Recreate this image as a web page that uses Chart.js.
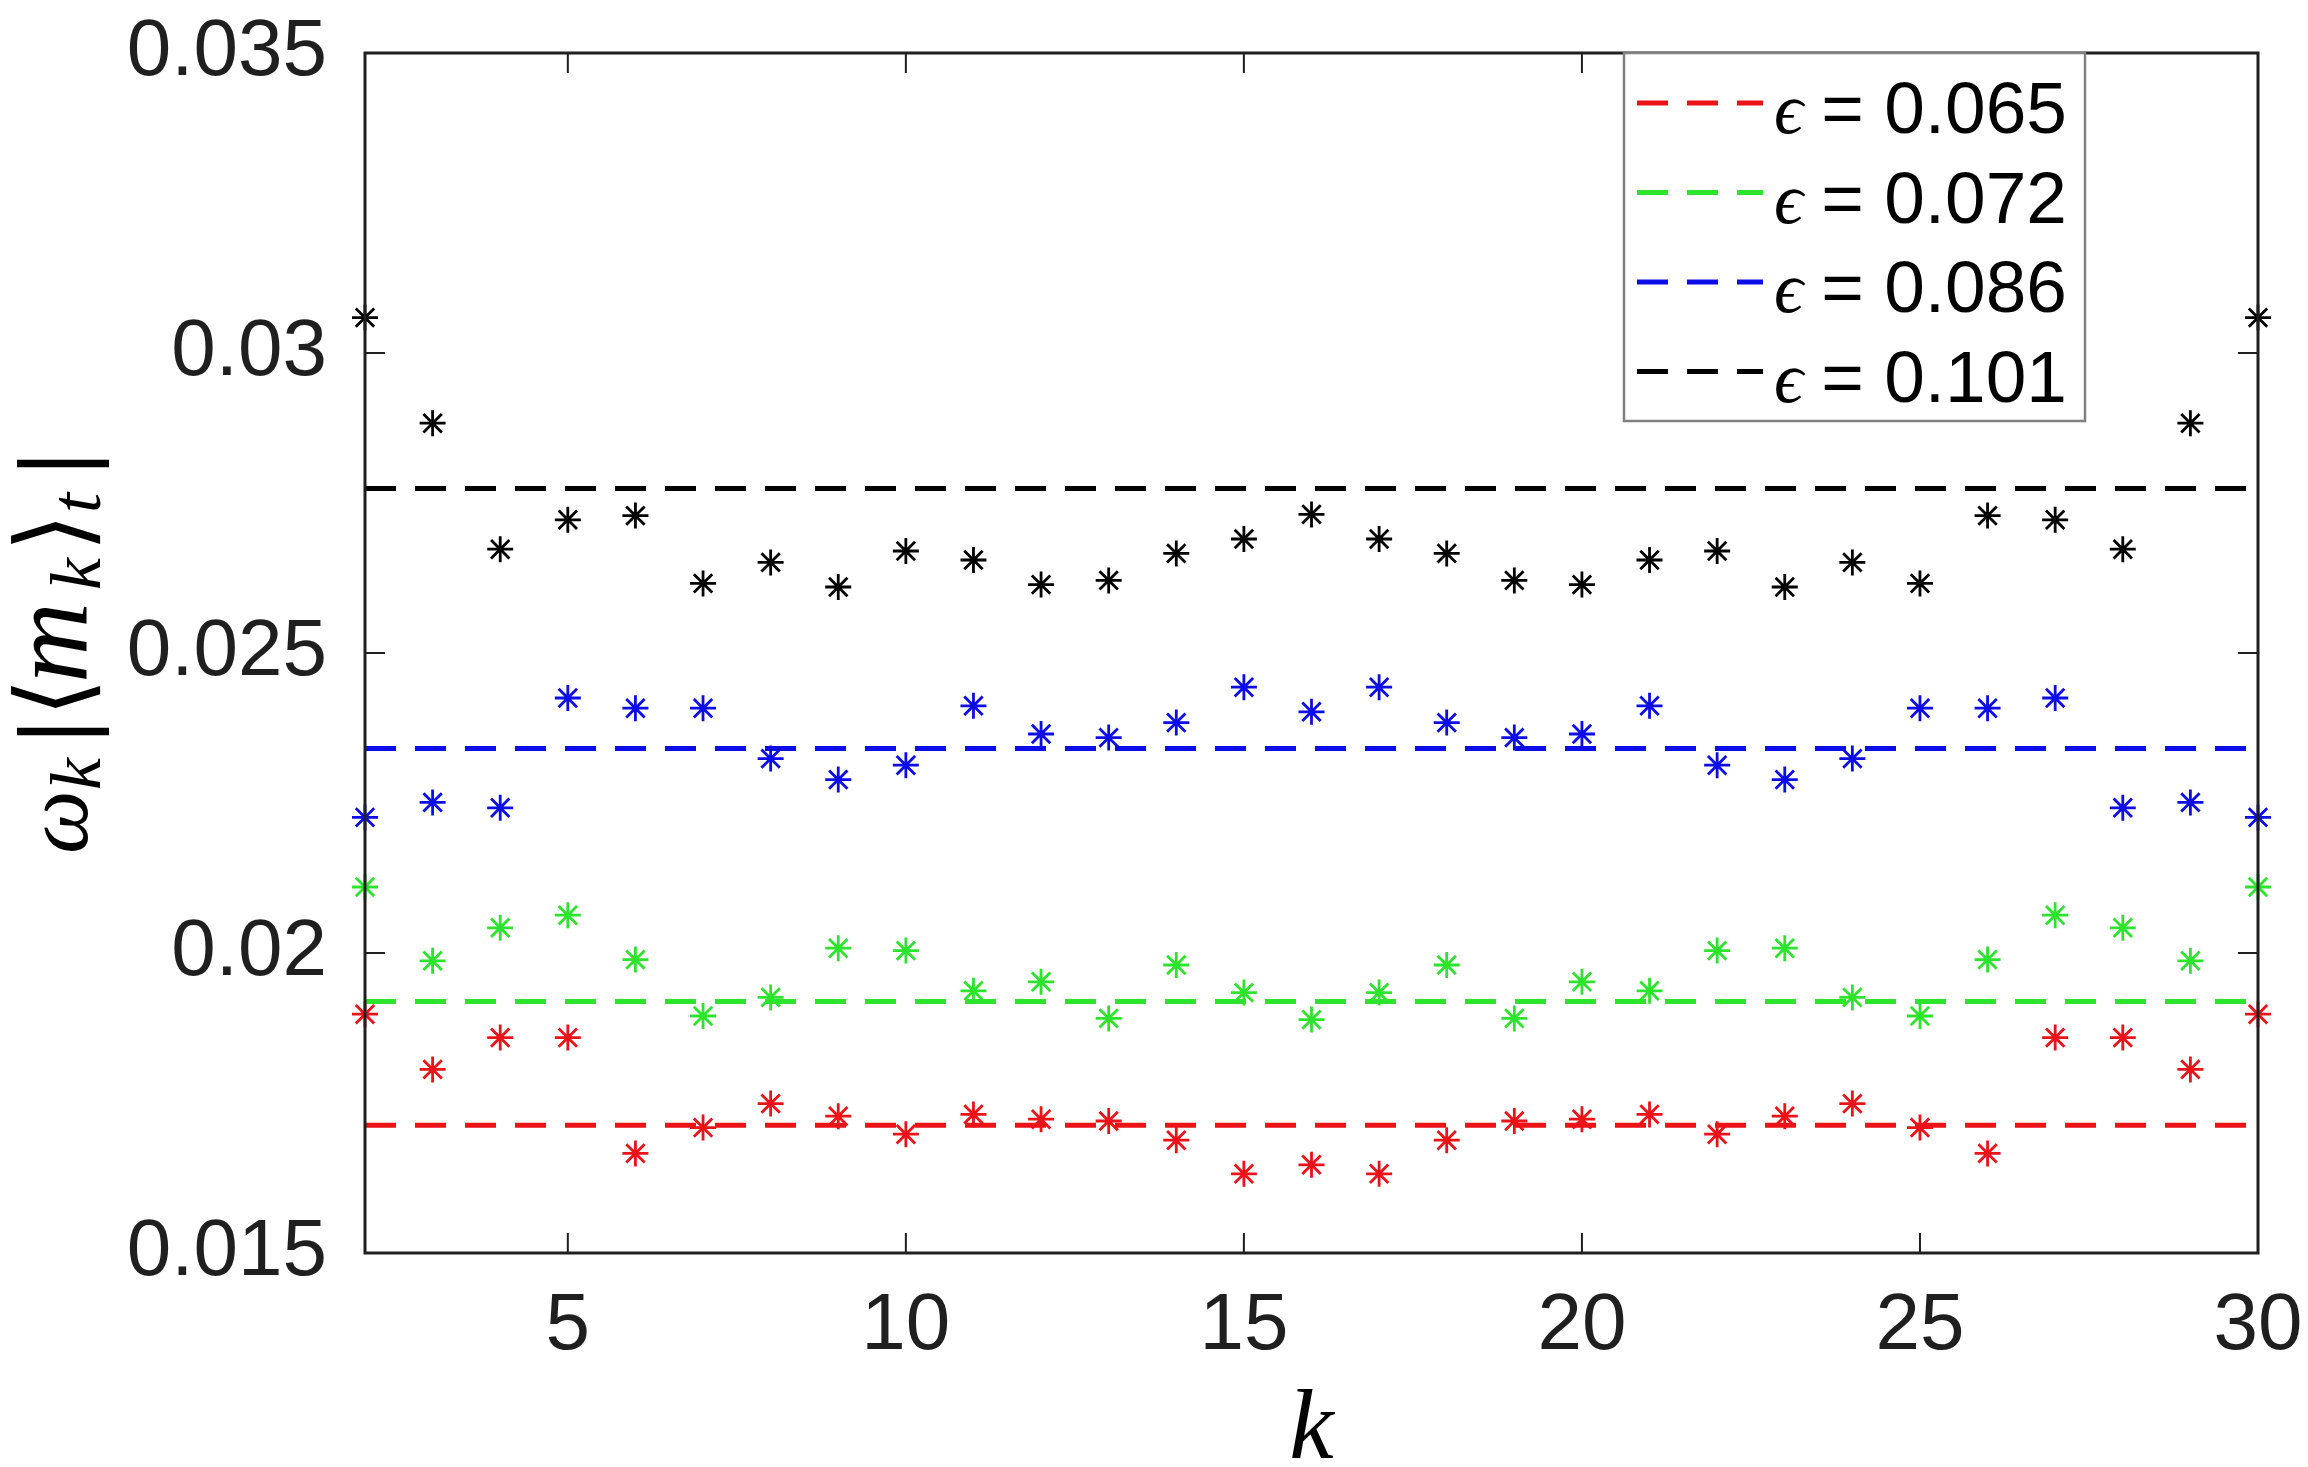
<!DOCTYPE html>
<html>
<head>
    <title>omega_k |m_k| vs k</title>
    <script src="https://cdn.jsdelivr.net/npm/chart.js"></script>
    <style>
        body {
            margin: 0;
            background-color: white;
            overflow: hidden;
        }

        #kChart {
            display: block;
        }
    </style>
</head>
<body>
    <canvas id="kChart" width="2308" height="1467"></canvas>

    <script>
        // mode number k
        const kValues = [2, 3, 4, 5, 6, 7, 8, 9, 10, 11, 12, 13, 14, 15, 16,
                         17, 18, 19, 20, 21, 22, 23, 24, 25, 26, 27, 28, 29, 30];

        // omega_k |<m_k>_t|, one array per epsilon
        const eps065 = [0.01898, 0.01806, 0.01859, 0.01859, 0.01666, 0.01709, 0.01749, 0.01728, 0.01698, 0.01731,
                        0.01723, 0.01720, 0.01688, 0.01632, 0.01647, 0.01632, 0.01688, 0.01720, 0.01723, 0.01731,
                        0.01698, 0.01728, 0.01749, 0.01709, 0.01666, 0.01859, 0.01859, 0.01806, 0.01898];
        const eps072 = [0.02110, 0.01987, 0.02042, 0.02063, 0.01989, 0.01895, 0.01926, 0.02008, 0.02004, 0.01937,
                        0.01952, 0.01891, 0.01980, 0.01934, 0.01889, 0.01934, 0.01980, 0.01891, 0.01952, 0.01937,
                        0.02004, 0.02008, 0.01926, 0.01895, 0.01989, 0.02063, 0.02042, 0.01987, 0.02110];
        const eps086 = [0.02226, 0.02251, 0.02242, 0.02425, 0.02408, 0.02408, 0.02324, 0.02289, 0.02313, 0.02412,
                        0.02365, 0.02359, 0.02384, 0.02443, 0.02402, 0.02443, 0.02384, 0.02359, 0.02365, 0.02412,
                        0.02313, 0.02289, 0.02324, 0.02408, 0.02408, 0.02425, 0.02242, 0.02251, 0.02226];
        const eps101 = [0.03059, 0.02883, 0.02673, 0.02722, 0.02729, 0.02616, 0.02651, 0.02610, 0.02670, 0.02655,
                        0.02614, 0.02621, 0.02666, 0.02690, 0.02731, 0.02690, 0.02666, 0.02621, 0.02614, 0.02655,
                        0.02670, 0.02610, 0.02651, 0.02616, 0.02729, 0.02722, 0.02673, 0.02883, 0.03059];

        // dashed mean levels
        const meanLevels = [0.01713, 0.01919, 0.02341, 0.02774];
        const epsLabels = ['0.065', '0.072', '0.086', '0.101'];
        const seriesColors = ['rgb(235, 18, 24)', 'rgb(45, 228, 45)', 'rgb(12, 12, 232)', 'rgb(0, 0, 0)'];

        // ticks
        const xTickValues = [5, 10, 15, 20, 25, 30];
        const yTickValues = [0.015, 0.02, 0.025, 0.03, 0.035];
        const yTickLabels = ['0.015', '0.02', '0.025', '0.03', '0.035'];

        const allSeries = [eps065, eps072, eps086, eps101];
        const inkColor = '#1f1f1f';

        // mean lines first (they carry the legend), then the star markers
        const datasets = [];
        meanLevels.forEach((level, i) => {
            datasets.push({
                label: '\u03F5 = ' + epsLabels[i],
                data: [{ x: kValues[0], y: level }, { x: kValues[kValues.length - 1], y: level }],
                showLine: true,
                borderColor: seriesColors[i],
                borderWidth: 5,
                borderDash: [31, 19],
                pointRadius: 0,
                isMean: true
            });
        });
        allSeries.forEach((series, i) => {
            datasets.push({
                label: 'points ' + epsLabels[i],
                data: kValues.map((k, j) => ({ x: k, y: series[j] })),
                showLine: false,
                pointStyle: 'star',
                pointRadius: 13,
                pointBorderWidth: 2.8,
                borderColor: seriesColors[i],
                backgroundColor: seriesColors[i],
                clip: false
            });
        });

        // box, inward ticks, legend and axis titles in MATLAB style
        const matlabDecor = {
            id: 'matlabDecor',
            afterDatasetsDraw(chart) {
                const ctx = chart.ctx;
                const area = chart.chartArea;
                const xs = chart.scales.x;
                const ys = chart.scales.y;
                const tickLen = 20;

                ctx.save();
                ctx.strokeStyle = inkColor;
                ctx.lineWidth = 2;
                ctx.beginPath();
                xTickValues.forEach(v => {
                    const px = xs.getPixelForValue(v);
                    ctx.moveTo(px, area.bottom);
                    ctx.lineTo(px, area.bottom - tickLen);
                    ctx.moveTo(px, area.top);
                    ctx.lineTo(px, area.top + tickLen);
                });
                yTickValues.forEach(v => {
                    const py = ys.getPixelForValue(v);
                    ctx.moveTo(area.left, py);
                    ctx.lineTo(area.left + tickLen, py);
                    ctx.moveTo(area.right, py);
                    ctx.lineTo(area.right - tickLen, py);
                });
                ctx.stroke();

                ctx.lineWidth = 3;
                ctx.strokeRect(area.left, area.top, area.right - area.left, area.bottom - area.top);

                // legend box in the upper right corner
                const box = { left: 1624, top: area.top, right: 2085, bottom: 421 };
                ctx.fillStyle = 'white';
                ctx.fillRect(box.left, box.top, box.right - box.left, box.bottom - box.top);
                ctx.strokeStyle = '#808080';
                ctx.lineWidth = 2.5;
                ctx.strokeRect(box.left, box.top, box.right - box.left, box.bottom - box.top);

                const means = chart.data.datasets.filter(d => d.isMean);
                means.forEach((d, i) => {
                    const rowY = 103 + i * 89.5;
                    ctx.strokeStyle = d.borderColor;
                    ctx.lineWidth = 5;
                    ctx.setLineDash([31, 19]);
                    ctx.beginPath();
                    ctx.moveTo(1637, rowY);
                    ctx.lineTo(1763, rowY);
                    ctx.stroke();
                    ctx.setLineDash([]);

                    ctx.fillStyle = 'black';
                    ctx.textAlign = 'left';
                    ctx.textBaseline = 'alphabetic';
                    ctx.font = 'italic 72px "Liberation Serif", "DejaVu Serif", serif';
                    ctx.fillText(d.label.charAt(0), 1774, rowY + 30);
                    ctx.font = '73px "Liberation Sans", Arial, sans-serif';
                    ctx.fillText(d.label.slice(1), 1801, rowY + 30);
                });

                // x title
                ctx.fillStyle = 'black';
                ctx.textAlign = 'center';
                ctx.font = 'italic 100px "Liberation Serif", "DejaVu Serif", serif';
                ctx.fillText('k', (area.left + area.right) / 2, 1458);

                // y title, rotated, with subscripts; start = screen y where the glyph ink begins
                const serifIt = size => 'italic ' + size + 'px "Liberation Serif", "DejaVu Serif", serif';
                const serifUp = size => size + 'px "DejaVu Serif", "Liberation Serif", serif';
                const parts = [
                    { t: '\u03C9', font: serifIt(90), start: 852, shift: 0 },
                    { t: 'k', font: serifIt(72), start: 788, shift: 13 },
                    { t: '|', font: serifUp(92), start: 736, shift: 0 },
                    { t: '\u27E8', font: serifUp(100), start: 709, shift: 0 },
                    { t: 'm', font: serifIt(112), start: 679, shift: 0 },
                    { t: 'k', font: serifIt(72), start: 588, shift: 13 },
                    { t: '\u27E9', font: serifUp(100), start: 544, shift: 0 },
                    { t: 't', font: serifIt(72), start: 510, shift: 13 },
                    { t: '|', font: serifUp(92), start: 468, shift: 0 }
                ];
                const cx = 87;
                const cy = 657;
                ctx.translate(cx, cy);
                ctx.rotate(-Math.PI / 2);
                ctx.textAlign = 'left';
                parts.forEach(p => {
                    ctx.font = p.font;
                    const m = ctx.measureText(p.t);
                    const u = (cy - p.start) + m.actualBoundingBoxLeft;
                    ctx.fillText(p.t, u, p.shift);
                });
                ctx.restore();
            }
        };

        function createChart() {
            const ctx = document.getElementById('kChart').getContext('2d');
            new Chart(ctx, {
                type: 'scatter',
                data: { datasets: datasets },
                plugins: [matlabDecor],
                options: {
                    responsive: false,
                    devicePixelRatio: 1,
                    animation: false,
                    events: [],
                    layout: { padding: { top: 53, right: 50, left: 0, bottom: 0 } },
                    plugins: {
                        legend: { display: false },
                        tooltip: { enabled: false }
                    },
                    scales: {
                        x: {
                            type: 'linear',
                            min: 2,
                            max: 30,
                            afterBuildTicks: s => { s.ticks = xTickValues.map(v => ({ value: v })); },
                            afterFit: s => {
                                s.height = 214;
                                s.paddingLeft = 0;
                                s.paddingRight = 0;
                            },
                            grid: { display: false, drawTicks: false },
                            border: { display: false },
                            ticks: {
                                autoSkip: false,
                                maxRotation: 0,
                                padding: 26,
                                color: inkColor,
                                font: { family: '"Liberation Sans", Arial, sans-serif', size: 80 },
                                callback: v => String(v)
                            }
                        },
                        y: {
                            type: 'linear',
                            min: 0.015,
                            max: 0.035,
                            afterBuildTicks: s => { s.ticks = yTickValues.map(v => ({ value: v })); },
                            afterFit: s => {
                                s.width = 365;
                                s.paddingTop = 0;
                                s.paddingBottom = 0;
                            },
                            grid: { display: false, drawTicks: false },
                            border: { display: false },
                            ticks: {
                                autoSkip: false,
                                padding: 38,
                                color: inkColor,
                                font: { family: '"Liberation Sans", Arial, sans-serif', size: 80 },
                                callback: (v, i) => yTickLabels[i]
                            }
                        }
                    }
                }
            });
        }

        createChart();
    </script>
</body>
</html>
